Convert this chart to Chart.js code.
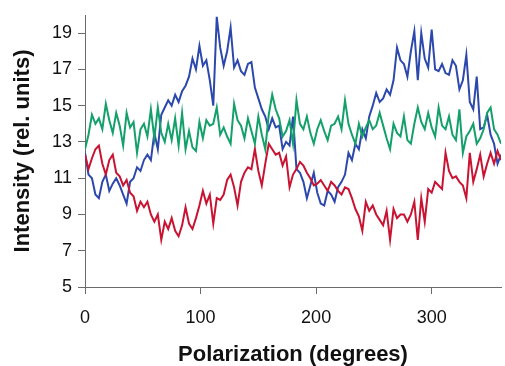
<!DOCTYPE html>
<html>
<head>
<meta charset="utf-8">
<script src="https://cdn.jsdelivr.net/npm/chart.js@4"></script>
<style>
  html, body { margin: 0; padding: 0; background: #fff; }
  #wrap { width: 505px; height: 366px; }
</style>
</head>
<body>
<div id="wrap"><canvas id="myChart"></canvas></div>
<script>
// polarization angle (degrees), sampled every 3 degrees
const angles = [
  0, 3, 6, 9, 12, 15, 18, 21, 24, 27,
  30, 33, 36, 39, 42, 45, 48, 51, 54, 57,
  60, 63, 66, 69, 72, 75, 78, 81, 84, 87,
  90, 93, 96, 99, 102, 105, 108, 111, 114, 117,
  120, 123, 126, 129, 132, 135, 138, 141, 144, 147,
  150, 153, 156, 159, 162, 165, 168, 171, 174, 177,
  180, 183, 186, 189, 192, 195, 198, 201, 204, 207,
  210, 213, 216, 219, 222, 225, 228, 231, 234, 237,
  240, 243, 246, 249, 252, 255, 258, 261, 264, 267,
  270, 273, 276, 279, 282, 285, 288, 291, 294, 297,
  300, 303, 306, 309, 312, 315, 318, 321, 324, 327,
  330, 333, 336, 339, 342, 345, 348, 351, 354, 357,
  360
];

const blueValues = [
  12.4, 11.2, 11.0, 10.1, 9.9, 10.8, 11.2, 10.3, 10.7, 11.0,
  10.6, 10.1, 9.6, 10.8, 11.0, 11.6, 11.4, 12.0, 12.3, 12.0,
  13.5, 12.6, 14.5, 14.9, 15.3, 15.0, 15.6, 15.2, 15.8, 16.1,
  16.6, 17.6, 17.0, 18.3, 17.2, 17.5, 16.4, 15.0, 19.9, 18.2,
  17.2, 18.0, 19.3, 17.1, 17.5, 16.9, 16.7, 17.3, 17.4, 16.0,
  15.4, 14.8, 14.4, 13.7, 14.3, 13.8, 13.9, 12.6, 13.0, 12.8,
  14.4, 11.5, 11.3, 10.8, 9.9, 10.6, 11.3, 10.2, 9.6, 9.5,
  10.3, 10.1, 9.7, 10.5, 10.8, 11.2, 12.4, 12.0, 12.9, 12.6,
  13.7, 13.2, 14.4, 15.0, 15.7, 15.2, 15.4, 15.9, 15.6, 16.4,
  18.2, 17.5, 17.3, 16.6, 18.0, 19.1, 16.4, 19.0, 17.6, 17.1,
  19.2, 17.0, 16.9, 17.3, 16.8, 16.7, 17.5, 17.2, 15.9, 16.4,
  17.8, 15.2, 14.8, 16.6, 13.7, 13.8, 14.5, 13.4, 12.9, 11.8,
  12.3
];

const redValues = [
  12.3, 11.5, 12.1, 12.6, 12.8, 11.8, 11.2, 12.0, 12.3, 11.3,
  11.1, 10.6, 10.9, 10.2, 10.0, 9.2, 9.7, 9.4, 9.7, 9.0,
  8.6, 9.0, 7.6, 8.6, 8.2, 8.8, 8.1, 7.8, 8.4, 9.4,
  8.5, 8.2, 8.8, 9.5, 10.3, 9.6, 10.1, 8.5, 9.9, 9.8,
  10.1, 10.9, 11.2, 10.5, 9.5, 10.8, 11.3, 11.6, 11.5, 12.6,
  11.4, 10.6, 11.8, 12.9, 12.6, 12.3, 12.4, 11.7, 12.2, 10.5,
  11.2, 11.5, 11.9, 11.7, 11.3, 11.0, 10.6, 10.7, 10.9, 10.6,
  10.3, 10.8, 10.6, 10.3, 10.1, 10.5, 10.4, 9.9, 9.3, 8.9,
  8.1, 9.7, 9.2, 9.5, 9.0, 8.7, 8.4, 9.2, 7.6, 9.3,
  8.8, 9.0, 9.0, 8.6, 9.0, 9.7, 7.6, 9.9, 8.6, 10.4,
  10.2, 10.8, 10.6, 10.4, 12.4, 11.4, 11.0, 11.1, 10.8, 10.6,
  9.9, 12.4, 10.8, 11.5, 12.3, 11.1, 11.8, 12.4, 11.8, 12.5,
  12.0
];

const greenValues = [
  12.6, 13.4, 14.5, 14.0, 14.3, 13.7, 15.1, 14.2, 13.5, 14.6,
  13.9, 12.8, 14.6, 13.8, 14.1, 12.4, 13.7, 14.0, 13.3, 14.8,
  13.2, 14.9, 13.5, 13.0, 14.0, 13.1, 14.3, 12.8, 14.6, 12.6,
  13.6, 12.7, 12.5, 14.1, 13.2, 14.2, 13.9, 14.0, 14.9, 13.4,
  13.8, 13.3, 12.9, 15.1, 14.2, 13.9, 13.2, 14.3, 13.6, 12.9,
  14.4, 13.4, 12.6, 14.5, 15.6, 14.8, 14.3, 13.3, 13.6, 14.2,
  12.9, 15.3, 14.0, 13.7, 14.4, 13.5, 12.9, 13.7, 14.2, 13.6,
  13.1, 13.9, 14.0, 14.4, 13.7, 15.3, 14.0, 13.4, 12.9, 14.0,
  13.3, 13.8, 14.2, 13.7, 13.9, 14.6, 13.9, 13.2, 12.6, 14.0,
  13.5, 13.3, 14.4, 13.1, 12.9, 14.0, 14.9, 14.1, 13.7, 14.6,
  13.8, 13.3, 14.9, 13.9, 13.7, 14.4, 13.4, 13.1, 14.8, 12.4,
  13.3, 13.6, 14.0, 12.9, 13.2, 13.7, 14.6, 14.9, 13.7, 13.4,
  12.9
];

const xTicks = [0, 100, 200, 300];
const yTicks = [5, 7, 9, 11, 13, 15, 17, 19];

const toPoints = values => values.map((v, i) => ({ x: angles[i], y: v }));

const axisColor = '#6b6b6b';
const tickFont = { family: 'Liberation Sans, Arial, sans-serif', size: 18, lineHeight: 1 };
const titleFont = { family: 'Liberation Sans, Arial, sans-serif', size: 22, weight: 'bold', lineHeight: 1 };

const lineStyle = color => ({
  borderColor: color,
  backgroundColor: color,
  borderWidth: 2,
  pointRadius: 0,
  tension: 0,
  fill: false
});

const ctx = document.getElementById('myChart').getContext('2d');
new Chart(ctx, {
  type: 'line',
  data: {
    datasets: [
      Object.assign({ label: 'Green', data: toPoints(greenValues) }, lineStyle('#14a06a')),
      Object.assign({ label: 'Red', data: toPoints(redValues) }, lineStyle('#c81432')),
      Object.assign({ label: 'Blue', data: toPoints(blueValues) }, lineStyle('#2c48ad'))
    ]
  },
  options: {
    responsive: true,
    maintainAspectRatio: false,
    animation: false,
    layout: { padding: { top: 1, right: 4, left: 12, bottom: 0 } },
    plugins: {
      legend: { display: false },
      tooltip: { enabled: false }
    },
    scales: {
      x: {
        type: 'linear',
        min: 0,
        max: 360,
        afterBuildTicks: scale => { scale.ticks = xTicks.map(v => ({ value: v })); },
        ticks: { color: '#111', font: tickFont, padding: 15, maxRotation: 0 },
        grid: { drawOnChartArea: false, drawTicks: true, tickLength: 7, color: axisColor },
        border: { display: true, color: axisColor, width: 1 },
        title: { display: true, text: 'Polarization (degrees)', color: '#111', font: titleFont, padding: { top: 2, bottom: 0 } }
      },
      y: {
        min: 5,
        max: 20,
        afterBuildTicks: scale => { scale.ticks = yTicks.map(v => ({ value: v })); },
        ticks: { color: '#111', font: tickFont, padding: 6 },
        grid: { drawOnChartArea: false, drawTicks: true, tickLength: 7, color: axisColor },
        border: { display: true, color: axisColor, width: 1 },
        title: { display: true, text: 'Intensity (rel. units)', color: '#111', font: titleFont, padding: { top: 0, bottom: 12 } }
      }
    }
  }
});
</script>
</body>
</html>
